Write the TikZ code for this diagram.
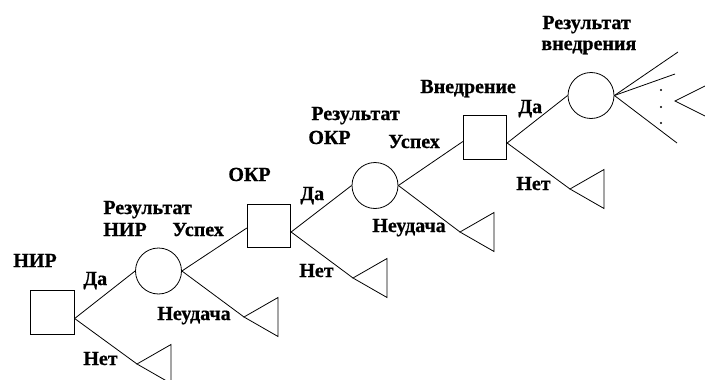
\documentclass[tikz,border=0pt]{standalone}
\usepackage{fontspec}
\setmainfont{Liberation Serif}
\newfontfamily\lblfont{Liberation Serif Bold}[FakeBold=0.7]
\usetikzlibrary{calc}
\begin{document}
\begin{tikzpicture}[x=1pt,y=-1pt,
  line width=0.8pt,
  sq/.style={draw,rectangle,minimum size=43.5pt,inner sep=0pt},
  cir/.style={draw,circle,minimum size=46pt,inner sep=0pt},
  lbl/.style={anchor=base west,inner sep=0pt,font=\fontsize{20}{24}\lblfont}]
\useasboundingbox (0,0) rectangle (705,380);
% decision squares and chance circles
\node[sq]  (sq1) at (52.5,312.5) {};
\node[cir] (c1)  at (158.5,271) {};
\node[sq]  (sq2) at (269,226) {};
\node[cir] (c2)  at (375,185.5) {};
\node[sq]  (sq3) at (485,137.5) {};
\node[cir] (c3)  at (591,95.5) {};
% triangle tips
\coordinate (t1) at (137,364);
\coordinate (t2) at (244,317);
\coordinate (t3) at (353,278);
\coordinate (t4) at (460,232);
\coordinate (t5) at (570,189);
\foreach \t in {t1,t2,t3,t4,t5}{
  \draw (\t) -- ++(34,-19.5) -- ++(0,39) -- cycle;
}
% connection points on squares
\coordinate (sq1o) at ($(sq1.east)+(0,6)$);
\coordinate (sq2i) at ($(sq2.west)+(0,2)$);
\coordinate (sq2o) at ($(sq2.east)+(0,6)$);
\coordinate (sq3i) at ($(sq3.west)+(0,4)$);
\coordinate (sq3o) at ($(sq3.east)+(0,5.5)$);
% connectors
\draw (sq1o) -- (c1.west);
\draw (sq1o) -- (t1);
\draw (c1.east) -- (sq2i);
\draw (c1.east) -- (t2);
\draw (sq2o) -- (c2.west);
\draw (sq2o) -- (t3);
\draw (c2.east) -- (sq3i);
\draw (c2.east) -- (t4);
\draw (sq3o) -- (c3.west);
\draw (sq3o) -- (t5);
% fan at the end
\coordinate (f1) at (678,52);
\coordinate (f2) at (675,74);
\coordinate (f3) at (677,143);
\draw (c3.east) -- (f1);
\draw (c3.east) -- (f2);
\draw (c3.east) -- (f3);
\fill (661,90) circle (1.1pt);
\fill (661,107) circle (1.1pt);
\fill (661,123) circle (1.1pt);
\coordinate (t6) at (675,101);
\coordinate (t6a) at (705,86);
\coordinate (t6b) at (705,116);
\draw (t6a) -- (t6) -- (t6b);
% labels
\node[lbl] (lNIR) at (13,267) {НИР};
\node[lbl] (lDa1) at (83,285) {Да};
\node[lbl] (lNet1) at (83,365) {Нет};
\node[lbl] (lRN1) at (103,214) {Результат};
\node[lbl] (lRN2) at (103,236) {НИР};
\node[lbl] (lUs1) at (172,236) {Успех};
\node[lbl] (lNeu1) at (157,320) {Неудача};
\node[lbl] (lOKR) at (228,181) {ОКР};
\node[lbl] (lDa2) at (300,200) {Да};
\node[lbl] (lNet2) at (299,277) {Нет};
\node[lbl] (lRO1) at (311,120) {Результат};
\node[lbl] (lRO2) at (308,144) {ОКР};
\node[lbl] (lUs2) at (388,148) {Успех};
\node[lbl] (lNeu2) at (372,232) {Неудача};
\node[lbl] (lVn) at (420,93) {Внедрение};
\node[lbl] (lDa3) at (518,113) {Да};
\node[lbl] (lNet3) at (516,190) {Нет};
\node[lbl] (lRV1) at (542,29) {Результат};
\node[lbl] (lRV2) at (541,50) {внедрения};
\end{tikzpicture}
\end{document}
